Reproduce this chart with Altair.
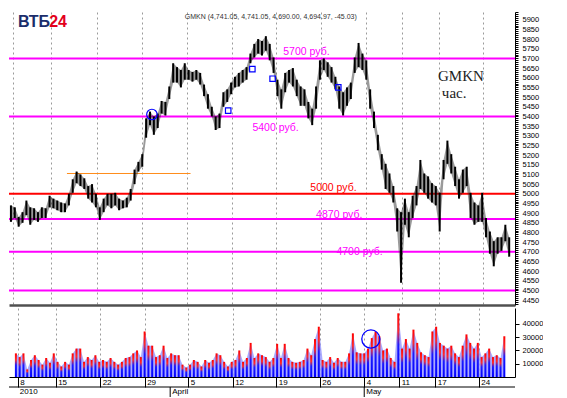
import altair as alt
import pandas as pd

# ---------------- data ----------------
bar_index = list(range(130))
highs = [4940, 4930, 4880, 4905, 4965, 4930, 4925, 4905, 4930, 4925,
         4990, 4975, 4965, 4955, 4950, 5000, 5075, 5115, 5100, 5080,
         5040, 5050, 5000, 4930, 4975, 5000, 5000, 5005, 4975, 4965,
         4980, 5025, 5125, 5165, 5205, 5390, 5425, 5400, 5415, 5480,
         5475, 5555, 5675, 5655, 5640, 5675, 5640, 5630, 5640, 5625,
         5565, 5515, 5450, 5400, 5415, 5525, 5540, 5575, 5605, 5625,
         5640, 5655, 5725, 5775, 5800, 5790, 5815, 5775, 5705, 5590,
         5540, 5625, 5640, 5650, 5590, 5555, 5540, 5475, 5440, 5555,
         5690, 5700, 5680, 5655, 5605, 5555, 5525, 5550, 5575, 5705,
         5780, 5725, 5690, 5540, 5425, 5305, 5205, 5155, 5105, 5040,
         4925, 4905, 4975, 4905, 4990, 5040, 5175, 5105, 5090, 5055,
         5040, 5005, 5175, 5275, 5205, 5140, 5075, 5125, 5140, 5005,
         4955, 4940, 5005, 4875, 4805, 4755, 4775, 4775, 4840, 4775]
lows = [4855, 4875, 4830, 4850, 4890, 4840, 4865, 4855, 4875, 4875,
        4930, 4925, 4915, 4905, 4905, 4940, 5005, 5055, 5040, 5025,
        4975, 4955, 4930, 4865, 4905, 4940, 4925, 4940, 4915, 4925,
        4930, 4965, 5050, 5115, 5140, 5290, 5355, 5305, 5340, 5415,
        5405, 5490, 5575, 5575, 5550, 5590, 5590, 5580, 5590, 5565,
        5505, 5440, 5400, 5330, 5340, 5450, 5475, 5515, 5550, 5555,
        5575, 5590, 5675, 5705, 5725, 5715, 5740, 5690, 5625, 5505,
        5440, 5525, 5575, 5555, 5505, 5455, 5455, 5390, 5355, 5440,
        5590, 5640, 5605, 5575, 5540, 5440, 5405, 5455, 5490, 5625,
        5655, 5640, 5590, 5440, 5340, 5225, 5125, 5025, 5005, 4955,
        4805, 4540, 4840, 4775, 4875, 4940, 5025, 5005, 4975, 4955,
        4940, 4805, 5075, 5155, 5105, 5040, 4975, 5005, 5040, 4875,
        4840, 4855, 4855, 4775, 4690, 4625, 4690, 4705, 4755, 4675]
volumes = [17800, 15000, 17800, 5700, 12800, 16400, 12800, 9300, 14300, 10700,
           17800, 11400, 7900, 11400, 9300, 17800, 21400, 21400, 11400, 15000,
           12800, 16400, 11400, 12800, 11400, 14300, 11400, 9300, 11400, 14300,
           15000, 17800, 20000, 15000, 34300, 23600, 23600, 15000, 16400, 23600,
           14300, 17800, 16400, 16400, 9300, 7100, 9300, 12800, 11400, 7900,
           12800, 10700, 12800, 17800, 16400, 11400, 7900, 11400, 12800, 20000,
           11400, 14300, 25700, 14300, 17800, 16400, 15000, 11400, 14300, 25000,
           14300, 25000, 14300, 11400, 10700, 11400, 12800, 21400, 16400, 28600,
           37900, 12800, 11400, 15000, 10700, 14300, 11400, 11400, 17800, 32900,
           18600, 17800, 17800, 21400, 29300, 34300, 30700, 20000, 21400, 14300,
           11400, 48000, 21400, 28600, 21400, 35700, 25700, 18600, 16400, 15000,
           34300, 37900, 25700, 23600, 21400, 23600, 17800, 15000, 23600, 32100,
           25700, 21400, 25700, 15000, 17800, 21400, 15000, 16400, 14300, 30700]

day_labels = ['8', '15', '22', '29', '5', '12', '19', '26', '4', '11', '17', '24']
day_pos = [0.5, 10.5, 22.25, 34, 45.5, 57.25, 68.75, 80.25, 92, 101.25, 110.75, 122.25]
month_labels = ['2010', 'April', 'May']
month_pos = [0.5, 40.75, 92]

level_values = [5700, 5400, 5000, 4870, 4700, 4500]
level_colors = ['#ff00ff', '#ff00ff', '#ff0000', '#ff00ff', '#ff00ff', '#ff00ff']
level_text = ['5700 руб.', '5400 руб.', '5000 руб.', '4870 руб.', '4700 руб.']
level_text_x = [76.5, 68.5, 83.5, 85, 90.25]
level_text_y = [5735, 5340, 5030, 4890, 4700]
level_text_color = ['#ff00ff', '#ff00ff', '#ff0000', '#ff00ff', '#ff00ff']

resist_start, resist_end, resist_level = [14.5], [46.5], [5105]

square_x = [56.25, 62.5, 67.75, 84.75]
square_y = [5430, 5645, 5595, 5550]
circle_x, circle_y = [36.5], [5410]
vol_circle_x, vol_circle_y = [93.75], [28600]

ticker_text = ['GMKN', 'час.']
ticker_x = [116.5, 114.75]
ticker_y = [5610, 5520]

title_text = ['GMKN (4,741.05, 4,741.05, 4,690.00, 4,694.97, -45.03)']
title_x, title_y = [45.0], [5915]

logo_text = ['ВТБ', '24']
logo_x = [1.8, 9.9]
logo_y = [5890, 5890]
logo_color = ['#1b2d6b', '#e3001b']

# ---------------- chart ----------------
W, H1, H2 = 506, 293, 69
FONT = 'Liberation Sans'

xscale = alt.Scale(domain=[-0.5, 130.5], nice=False, zero=False)
pscale = alt.Scale(domain=[4425, 5940], nice=False, zero=False)
vscale = alt.Scale(domain=[0, 52000], nice=False)

price_xaxis = alt.Axis(values=day_pos, grid=True, gridDash=[2, 3], gridColor='#9a9a9a',
                       labels=False, ticks=False, domain=True, domainColor='#505050',
                       domainWidth=2.5, title=None)
label_expr = ''.join(f"datum.value == {p} ? '{l}' : " for p, l in zip(day_pos, day_labels)) + "''"
vol_xaxis = alt.Axis(values=day_pos, grid=True, gridDash=[2, 3], gridColor='#9a9a9a',
                     labelExpr=label_expr, ticks=True, tickSize=10, tickColor='black',
                     domainColor='black', labelAlign='left', labelBaseline='top',
                     labelPadding=-9, labelOffset=2, labelFontSize=8, labelFont=FONT,
                     labelColor='black', title=None, labelOverlap=False, labelBound=False)

price_yaxis = alt.Axis(orient='right', values=list(range(4430, 5941, 10)),
                       labelExpr="datum.value % 50 == 0 ? datum.label : ''",
                       format='d', tickSize=3, tickColor='black', domainColor='black',
                       labelFontSize=7.5, labelFont=FONT, labelColor='black',
                       labelPadding=4, labelOverlap=False, labelBound=False, title=None, grid=False)
vol_yaxis = alt.Axis(orient='right', values=[10000, 20000, 30000, 40000], format='d',
                     tickSize=4, tickColor='black', domainColor='black', labelFontSize=7.5,
                     labelFont=FONT, labelColor='black', labelPadding=3, title=None, grid=False)

bars = pd.DataFrame({'i': bar_index, 'high': highs, 'low': lows, 'vol': volumes})
levels = pd.DataFrame({'level': level_values, 'c': level_colors})
level_lbl = pd.DataFrame({'x': level_text_x, 'y': level_text_y, 't': level_text, 'c': level_text_color})
resist = pd.DataFrame({'x': resist_start, 'x2': resist_end, 'y': resist_level})
squares = pd.DataFrame({'x': square_x, 'y': square_y})
circ = pd.DataFrame({'x': circle_x, 'y': circle_y})
tick_df = pd.DataFrame({'x': ticker_x, 'y': ticker_y, 't': ticker_text})
title_df = pd.DataFrame({'x': title_x, 'y': title_y, 't': title_text})
logo_df = pd.DataFrame({'x': logo_x, 'y': logo_y, 't': logo_text, 'c': logo_color})

X = lambda f: alt.X(f, scale=xscale, axis=price_xaxis)
Y = lambda f: alt.Y(f, scale=pscale, axis=price_yaxis)

level_rules = alt.Chart(levels).mark_rule(strokeWidth=2).encode(
    y=Y('level:Q'), color=alt.Color('c:N', scale=None))
resist_rule = alt.Chart(resist).mark_rule(color='#ff8c1a', strokeWidth=1).encode(
    x=X('x:Q'), x2='x2:Q', y=Y('y:Q'))
band = alt.Chart(bars).mark_area(color='#202020', opacity=0.45).encode(
    x=X('i:Q'), y=Y('low:Q'), y2='high:Q')
ohlc = alt.Chart(bars).mark_rule(color='black', strokeWidth=2).encode(
    x=X('i:Q'), y=Y('low:Q'), y2='high:Q')
lvl_text = alt.Chart(level_lbl).mark_text(font=FONT, fontSize=10.5, baseline='middle').encode(
    x=X('x:Q'), y=Y('y:Q'), text='t:N', color=alt.Color('c:N', scale=None))
sq = alt.Chart(squares).mark_point(shape='square', filled=False, color='#0000ff',
                                   size=30, strokeWidth=1.2, opacity=1).encode(x=X('x:Q'), y=Y('y:Q'))
ci = alt.Chart(circ).mark_point(shape='circle', filled=False, color='#0000ff',
                                size=110, strokeWidth=1.2, opacity=1).encode(x=X('x:Q'), y=Y('y:Q'))
tick_txt = alt.Chart(tick_df).mark_text(font='Liberation Serif', fontSize=15, color='#222').encode(
    x=X('x:Q'), y=Y('y:Q'), text='t:N')
title_txt = alt.Chart(title_df).mark_text(font=FONT, fontSize=7, align='left', color='#333').encode(
    x=X('x:Q'), y=Y('y:Q'), text='t:N')
logo = alt.Chart(logo_df).mark_text(font=FONT, fontSize=16, fontWeight='bold', align='left').encode(
    x=X('x:Q'), y=Y('y:Q'), text='t:N', color=alt.Color('c:N', scale=None))

price = alt.layer(level_rules, resist_rule, band, ohlc, lvl_text, sq, ci, tick_txt, title_txt, logo
                  ).properties(width=W, height=H1)

XV = lambda f: alt.X(f, scale=xscale, axis=vol_xaxis)
grad = alt.Gradient(gradient='linear', x1=0, x2=0, y1=1, y2=0,
                    stops=[alt.GradientStop(color='#0000ff', offset=0),
                           alt.GradientStop(color='#1a1aff', offset=0.5),
                           alt.GradientStop(color='#ff2a2a', offset=0.72),
                           alt.GradientStop(color='#ff0000', offset=1)])
vol_area = alt.Chart(bars).mark_area(color='#9a9aff', opacity=0.85).encode(
    x=XV('i:Q'), y=alt.Y('vol:Q', scale=vscale, axis=vol_yaxis))
vol_bars = alt.Chart(bars).mark_bar(size=2, color=grad).encode(
    x=XV('i:Q'), y=alt.Y('vol:Q', scale=vscale, axis=vol_yaxis))
vol_circ = alt.Chart(pd.DataFrame({'x': vol_circle_x, 'y': vol_circle_y})).mark_point(
    shape='circle', filled=False, color='#0000ff', size=330, strokeWidth=1.3, opacity=1).encode(
    x=XV('x:Q'), y=alt.Y('y:Q', scale=vscale, axis=vol_yaxis))
months = pd.DataFrame({'x': month_pos, 't': month_labels})
month_sep = alt.Chart(months.iloc[1:]).mark_rule(color='black').encode(
    x=XV('x:Q'), y=alt.value(H2 + 10), y2=alt.value(H2 + 20))
month_txt = alt.Chart(months).mark_text(font=FONT, fontSize=8, align='left', baseline='top',
                                        dx=2, color='black').encode(
    x=XV('x:Q'), y=alt.value(H2 + 11), text='t:N')
date_line = alt.Chart(months.iloc[:1]).mark_rule(color='black').encode(
    x=alt.value(0), x2=alt.value(W), y=alt.value(H2 + 10))

volume = alt.layer(vol_area, vol_bars, vol_circ, date_line, month_sep, month_txt
                   ).properties(width=W, height=H2)

chart = alt.vconcat(price, volume, spacing=0).properties(
    padding=0, background='white'
).configure_view(stroke=None)

chart.save("out.html", embed_options={"renderer": "svg", "actions": False})
